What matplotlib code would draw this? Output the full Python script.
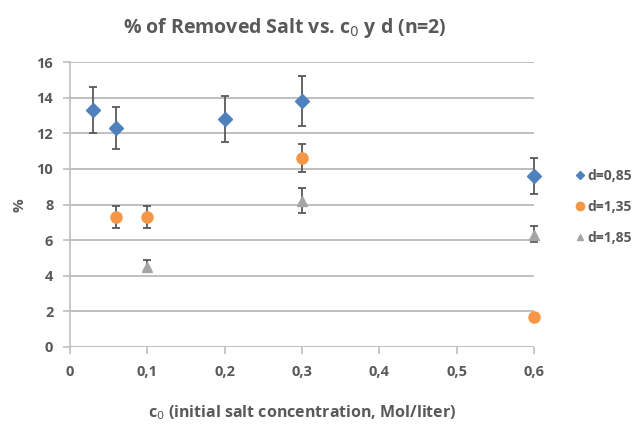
import matplotlib.pyplot as plt
from matplotlib.lines import Line2D
import numpy as np

# removed salt (%) per initial concentration, one series per d
c0_085 = [0.03, 0.06, 0.2, 0.3, 0.6]
pct_085 = [13.3, 12.3, 12.8, 13.8, 9.6]
err_085 = [1.3, 1.2, 1.3, 1.4, 1.0]

c0_135 = [0.06, 0.1, 0.3, 0.6]
pct_135 = [7.3, 7.3, 10.6, 1.7]
err_135 = [0.6, 0.6, 0.8, 0.0]

c0_185 = [0.1, 0.3, 0.6]
pct_185 = [4.5, 8.2, 6.3]
err_185_lo = [0.2, 0.7, 0.4]
err_185_hi = [0.4, 0.7, 0.5]

labels = ['d=0,85', 'd=1,35', 'd=1,85']
x_ticks = [0, 0.1, 0.2, 0.3, 0.4, 0.5, 0.6]
x_ticklabels = ['0', '0,1', '0,2', '0,3', '0,4', '0,5', '0,6']
y_ticks = np.arange(0, 17, 2)

plt.rcParams['font.family'] = ['Open Sans', 'DejaVu Sans']
text_col = '#595959'
colors = ['#4f81bd', '#f79646', '#a5a5a5']
markers = ['D', 'o', '^']

fig = plt.figure(figsize=(6.36, 4.25), dpi=100)
ax = fig.add_axes([70 / 636, 1 - 347 / 425, 464 / 636, 285 / 425])

series = [
    (c0_085, pct_085, err_085, 7),
    (c0_135, pct_135, err_135, 8),
    (c0_185, pct_185, [err_185_lo, err_185_hi], 7.5),
]
for (x, y, e, ms), m, col in zip(series, markers, colors):
    ax.errorbar(x, y, yerr=e, fmt=m, color=col, ms=ms, ecolor='#595959',
                elinewidth=1.3, capsize=3, capthick=1.3,
                clip_on=False, zorder=3)

ax.set_xlim(0, 0.6)
ax.set_ylim(0, 16)
ax.set_xticks(x_ticks)
ax.set_xticklabels(x_ticklabels)
ax.set_yticks(y_ticks)

for s in ['top', 'right', 'bottom']:
    ax.spines[s].set_visible(False)
ax.spines['left'].set_color('#bfbfbf')
ax.spines['left'].set_linewidth(1.2)
ax.yaxis.grid(True, color='#bfbfbf', linewidth=1.4)
ax.set_axisbelow(True)
ax.tick_params(axis='both', colors='#bfbfbf', labelcolor=text_col,
               labelsize=10.5, length=5, width=1.2, pad=7)
ax.tick_params(axis='x', pad=8)
for t in ax.get_xticklabels() + ax.get_yticklabels():
    t.set_fontweight('bold')

fig.text(285 / 636, 1 - 28 / 425, '% of Removed Salt vs. c$_0$ y d (n=2)',
         ha='center', va='center', fontsize=14, fontweight='bold', color=text_col)
fig.text(302 / 636, 1 - 413 / 425, 'c$_0$ (initial salt concentration, Mol/liter)',
         ha='center', va='center', fontsize=11.5, fontweight='bold', color=text_col)
fig.text(20 / 636, 1 - 205 / 425, '%', ha='center', va='center', rotation=90,
         fontsize=11, fontweight='bold', color=text_col)

handles = [Line2D([], [], ls='none', marker=m, color=c, ms=s)
           for m, c, s in zip(markers, colors, [4.5, 6, 5])]
leg = ax.legend(handles, labels, loc='center left',
                bbox_to_anchor=(576 / 636, 1 - 207 / 425),
                bbox_transform=fig.transFigure, frameon=False,
                borderpad=0, borderaxespad=0, handlelength=0.6,
                handletextpad=0.2, labelspacing=1.2,
                prop={'weight': 'bold', 'size': 10})
for t in leg.get_texts():
    t.set_color(text_col)

fig.savefig('out.png', dpi=100)
